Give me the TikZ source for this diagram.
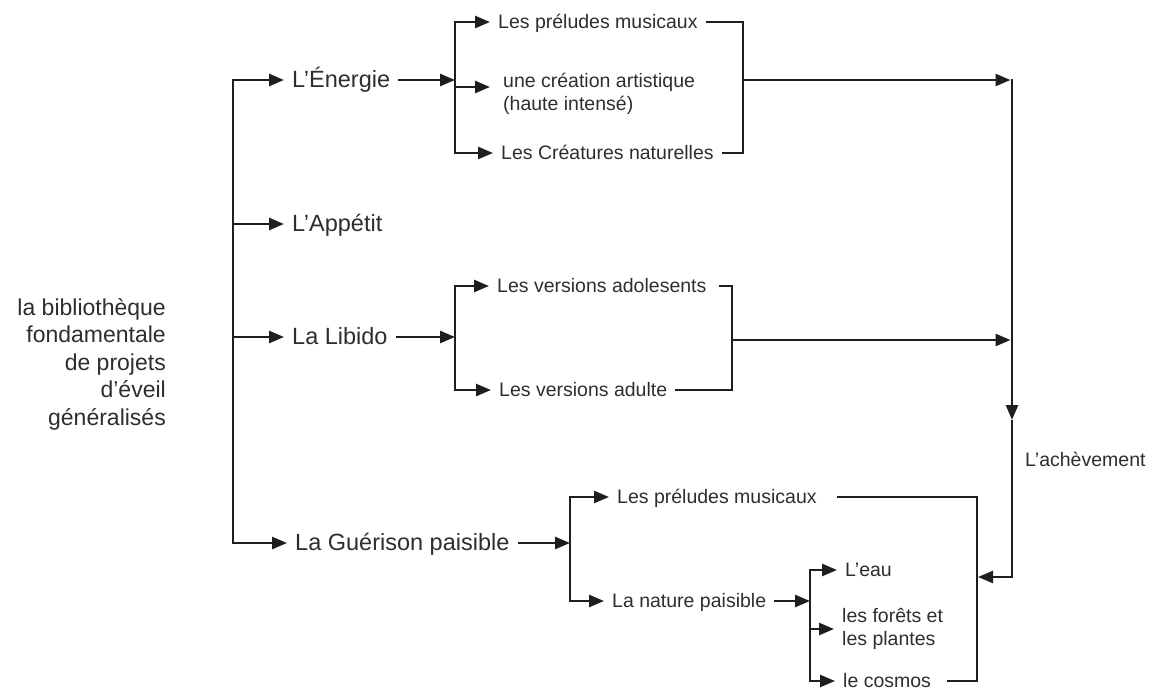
\documentclass[tikz,border=0pt]{standalone}
\usepackage{fontspec}
\setmainfont{Liberation Sans}
\usetikzlibrary{arrows.meta}
\definecolor{ink}{HTML}{1E1E1E}
\definecolor{txt}{HTML}{2E2E2E}
\begin{document}
\begin{tikzpicture}[x=1pt,y=-1pt,
  conn/.style={draw=ink,line width=2.5pt},
  arr/.style={conn,-{Triangle[length=15pt,width=12pt]}},
  mainlab/.style={font=\fontsize{23.5}{27.5}\selectfont, text=txt, inner xsep=8pt, inner ysep=0pt, text height=14.5pt, text depth=0pt, anchor=west},
  sublab/.style={font=\fontsize{19.5}{23}\selectfont, text=txt, inner xsep=8pt, inner ysep=0pt, text height=12pt, text depth=0pt, anchor=west},
  multilab/.style={font=\fontsize{19.5}{23}\selectfont, text=txt, inner xsep=8pt, inner ysep=0pt, align=left},
]
\useasboundingbox (0,0) rectangle (1152,691);
\clip (0,0) rectangle (1152,691);
\fill[white] (0,0) rectangle (1152,691);

% left block
\node[font=\fontsize{23}{27.5}\selectfont, text=txt, align=right, anchor=east, inner sep=0pt] (lib) at (166,364)
  {la bibliothèque\\fondamentale\\de projets\\d’éveil\\généralisés};

% main labels
\node[mainlab] (ener) at (284,80) {L’Énergie};
\node[mainlab] (appe) at (284,224) {L’Appétit};
\node[mainlab] (libi) at (284,337) {La Libido};
\node[mainlab] (guer) at (287,543) {La Guérison paisible};

% column coordinates
\coordinate (mx) at (233,0);
\coordinate (b1) at (455,0);
\coordinate (r1) at (743,0);
\coordinate (r2) at (732,0);
\coordinate (rv) at (1012,0);
\coordinate (g1) at (570,0);
\coordinate (gr) at (977,0);
\coordinate (n1) at (810,0);

% main trunk
\draw[arr] (guer.west -| mx) -- (ener.west -| mx) -- (ener.west);
\draw[arr] (ener.west -| mx) -- (guer.west -| mx) -- (guer.west);
\draw[arr] (appe.west -| mx) -- (appe.west);
\draw[arr] (libi.west -| mx) -- (libi.west);

% Energie block
\node[sublab] (ep) at (490,22) {Les préludes musicaux};
\node[multilab, anchor=north west] (ec) at (495,73.4) {une création artistique\\(haute intensé)};
\node[sublab] (en) at (493,153) {Les Créatures naturelles};
\coordinate (ecin) at (490,87);
\draw[arr] (ener.east) -- (b1 |- ener.east);
\draw[arr] (en.west -| b1) -- (ep.west -| b1) -- (ep.west);
\draw[arr] (ep.west -| b1) -- (en.west -| b1) -- (en.west);
\draw[arr] (b1 |- ecin) -- (ecin);
\draw[conn] (ep.east) -- (r1 |- ep.east) -- (r1 |- en.east) -- (en.east);
\draw[arr] (r1 |- ener.east) -- ([xshift=-1.5pt]rv |- ener.east);

% Libido block
\node[sublab] (la) at (489,286) {Les versions adolesents};
\node[sublab] (lu) at (491,390) {Les versions adulte};
\coordinate (lh) at (732,340);
\draw[arr] (libi.east) -- (b1 |- libi.east);
\draw[arr] (lu.west -| b1) -- (la.west -| b1) -- (la.west);
\draw[arr] (la.west -| b1) -- (lu.west -| b1) -- (lu.west);
\draw[conn] ([xshift=4pt]la.east) -- (r2 |- la.east) -- (r2 |- lu.east) -- (lu.east);
\draw[arr] (lh) -- ([xshift=-1.5pt]rv |- lh);

% right collector
\coordinate (dn) at (1012,420);
\coordinate (cor) at (1012,577);
\draw[arr] ([yshift=1.2pt]rv |- ener.east) -- (dn);
\draw[arr] (dn) -- (cor) -- ([xshift=1pt]gr |- cor);
\node[sublab, inner xsep=0pt] (ach) at (1025,460) {L’achèvement};

% Guerison block
\node[sublab] (gp) at (609,497) {Les préludes musicaux};
\node[sublab] (gn) at (604,601) {La nature paisible};
\draw[arr] (guer.east) -- (g1 |- guer.east);
\draw[arr] (gn.west -| g1) -- (gp.west -| g1) -- (gp.west);
\draw[arr] (gp.west -| g1) -- (gn.west -| g1) -- (gn.west);

% Nature block
\node[sublab] (eau) at (837,570) {L’eau};
\node[multilab, anchor=west] (fo) at (834,629) {les forêts et\\les plantes};
\node[sublab] (co) at (835,681) {le cosmos};
\draw[arr] (gn.east) -- (n1 |- gn.east);
\draw[arr] (co.west -| n1) -- (eau.west -| n1) -- (eau.west);
\draw[arr] (eau.west -| n1) -- (co.west -| n1) -- (co.west);
\draw[arr] (n1 |- fo.west) -- (fo.west);

\draw[conn] ([xshift=12pt]gp.east) -- (gr |- gp.east) -- (gr |- co.east) -- ([xshift=8pt]co.east);
\end{tikzpicture}
\end{document}
